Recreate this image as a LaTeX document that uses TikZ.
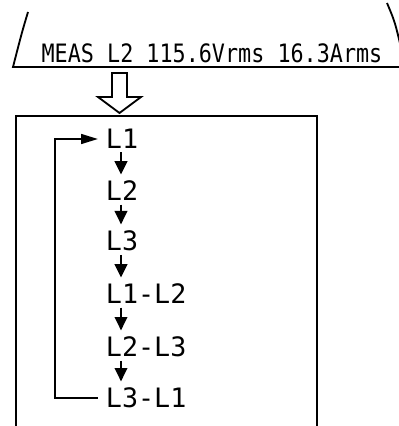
\documentclass[tikz,border=0pt]{standalone}
\usepackage{fontspec}
\usepackage{graphicx}
\newfontfamily\lcdfont{DejaVu Sans Mono}
\usetikzlibrary{arrows.meta, positioning}

\begin{document}
\begin{tikzpicture}[x=0.025cm, y=-0.025cm, line width=1.3pt,
	disp/.style={font=\lcdfont\fontsize{18}{19}\selectfont, inner sep=0pt},
	item/.style={font=\lcdfont\fontsize{19}{20}\selectfont, inner sep=0pt, anchor=west},
	nxt/.style={-{Triangle[length=9.5pt, width=9pt]}, shorten <=2pt, shorten >=4pt},
	back/.style={-{Triangle[length=12pt, width=7pt]}, shorten <=5pt, shorten >=5pt}]
	\useasboundingbox (0,0) rectangle (399,426);
	\draw (28,12) .. controls (22,32) .. (13,67) -- (402,67);
	\draw (387,3) .. controls (395,22) .. (402,52);
	\node[disp, anchor=base] (meas) at (212,63) {\scalebox{0.86}[1]{MEAS L2 115.6Vrms 16.3Arms}};
	\draw[line join=miter] (112,73) -- (127,73) -- (127,97) -- (141,97) -- (119.5,113)
		-- (98,97) -- (112,97) -- cycle;
	\draw (16,430) |- (317,116) -- (317,430);
	\coordinate (spine) at (121,0);
	\coordinate (loopx) at (55,0);
	\node[item] (L1) at (105,139) {L1};
	\node[item] (L2) at (105,191) {L2};
	\node[item] (L3) at (105,241) {L3};
	\node[item] (L12) at (105,294) {L1-L2};
	\node[item] (L23) at (105,347) {L2-L3};
	\node[item] (L31) at (105,398) {L3-L1};
	\draw[nxt] (L1.south -| spine) -- (L2.north -| spine);
	\draw[nxt] (L2.south -| spine) -- (L3.north -| spine);
	\draw[nxt] (L3.south -| spine) -- (L12.north -| spine);
	\draw[nxt] (L12.south -| spine) -- (L23.north -| spine);
	\draw[nxt] (L23.south -| spine) -- (L31.north -| spine);
	\draw[back] (L31.west) -- (L31.west -| loopx) |- (L1.west);
\end{tikzpicture}
\end{document}
